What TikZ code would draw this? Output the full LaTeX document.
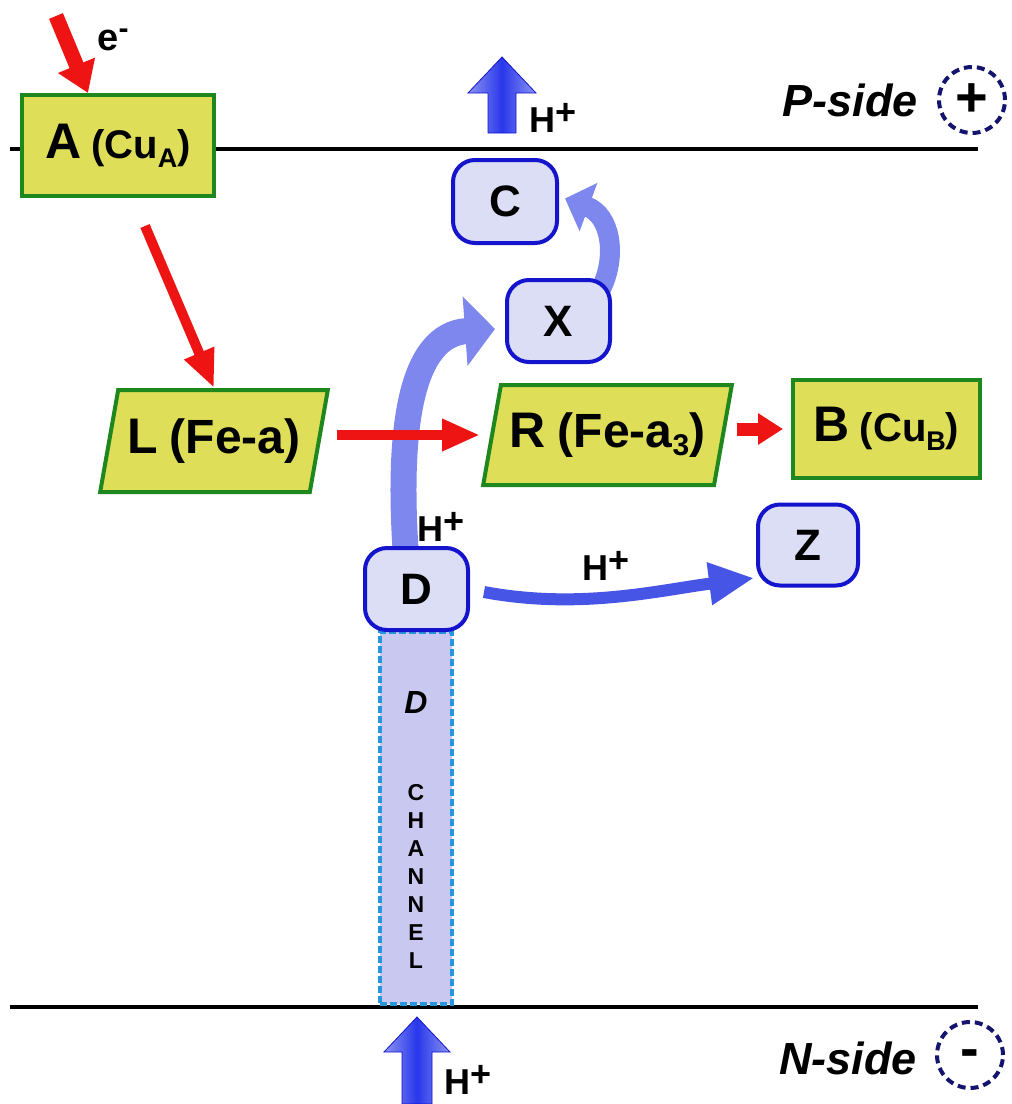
\documentclass[tikz,border=0pt]{standalone}
\usepackage{fontspec}
\setmainfont{Liberation Sans}
\usetikzlibrary{arrows.meta,shapes.geometric}
\definecolor{boxyellow}{RGB}{222,222,88}
\definecolor{boxgreen}{RGB}{30,135,30}
\definecolor{lav}{RGB}{220,222,246}
\definecolor{bborder}{RGB}{20,20,205}
\definecolor{redarr}{RGB}{238,20,20}
\definecolor{chfill}{RGB}{200,200,240}
\definecolor{chborder}{RGB}{40,150,220}
\definecolor{navyc}{RGB}{20,20,110}
\definecolor{arrblue}{RGB}{125,135,238}
\definecolor{deepblue}{RGB}{40,55,235}
\definecolor{paleblue}{RGB}{140,148,240}
\definecolor{zblue}{RGB}{70,85,230}
\pgfdeclarelayer{bg}
\pgfsetlayers{bg,main}
\newcommand{\fs}[1]{\fontsize{#1}{#1}\selectfont}
\tikzset{
  yrect/.style={draw=boxgreen, fill=boxyellow, line width=4pt, rectangle, inner sep=0pt, font=\bfseries},
  ypara/.style={draw=boxgreen, fill=boxyellow, line width=4pt, trapezium, trapezium left angle=70, trapezium right angle=110, trapezium stretches=true, inner sep=0pt, font=\bfseries},
  bbox/.style={draw=bborder, fill=lav, line width=4pt, rounded corners=22pt, inner sep=0pt, font=\fs{44}\bfseries},
  redarrow/.style={draw=redarr, line width=10pt, -{Triangle[width=30pt,length=38pt]}},
  hlabel/.style={font=\fs{36}\bfseries, inner sep=0pt},
  membrane/.style={draw=black, line width=3.5pt},
  sidelabel/.style={font=\fs{45}\bfseries\itshape, inner sep=0pt},
  chargecircle/.style={circle, draw=navyc, line width=4pt, dash pattern=on 8pt off 5pt, minimum size=66pt, inner sep=0pt, font=\fs{56}\bfseries},
  blockarrow/.style={left color=paleblue, right color=paleblue, middle color=deepblue, draw=bborder, line width=0.8pt},
  curvearrow/.style={draw=arrblue, line cap=butt}
}
\begin{document}
\begin{tikzpicture}[x=1pt,y=-1pt]
\useasboundingbox (0,0) rectangle (1012,1104);
% membranes
\coordinate (pl) at (10,149);
\coordinate (pr) at (978,149);
\coordinate (nl) at (10,1007);
\coordinate (nr) at (978,1007);
\begin{pgfonlayer}{bg}
\draw[membrane] (pl) -- (pr);
\draw[membrane] (nl) -- (nr);
\end{pgfonlayer}

% yellow nodes
\node[yrect, minimum width=192pt, minimum height=101pt] (A) at (118,145.5)
  {{\fs{50}A}\hspace{10pt}{\fs{40}(Cu\raisebox{-9pt}{\fs{27}A})}};
\node[ypara, minimum width=228pt, minimum height=102pt] (L) at (214,441)
  {{\fs{50}L}\hspace{12pt}{\fs{48}(Fe-a)}};
\node[ypara, minimum width=249pt, minimum height=100pt] (R) at (607.5,435)
  {{\fs{50}R}\hspace{12pt}{\fs{48}(Fe-a\raisebox{-8pt}{\fs{30}3})}};
\node[yrect, minimum width=187pt, minimum height=98pt] (B) at (886.5,429)
  {{\fs{50}B}\hspace{10pt}{\fs{40}(Cu\raisebox{-9pt}{\fs{27}B})}};

% channel
\node[draw=chborder, fill=chfill, line width=4.5pt, dash pattern=on 7pt off 3pt, minimum width=72pt, minimum height=372pt, inner sep=0pt] (ch) at (416,818) {};
\node[font=\fs{32}\bfseries\itshape, inner sep=0pt] (chD) at (416,702) {D};
\node[font=\fontsize{23}{28}\selectfont\bfseries, align=center, inner sep=0pt] (chtxt) at (416,876) {C\\H\\A\\N\\N\\E\\L};

% blue nodes
\node[bbox, minimum width=104pt, minimum height=83pt] (C) at (505,201.5) {C};
\node[bbox, minimum width=103pt, minimum height=82pt] (X) at (558.5,321) {X};
\node[bbox, minimum width=103pt, minimum height=82pt] (D) at (416.5,589) {D};
\node[bbox, minimum width=100pt, minimum height=81pt] (Z) at (808,545) {Z};

% side labels
\node[sidelabel] (P) at (850,100) {P-side};
\node[chargecircle] (Pc) at (972,100) {\raisebox{-2pt}{+}};
\node[sidelabel] (N) at (848,1058) {N-side};
\node[chargecircle] (Nc) at (970,1055) {\raisebox{-12pt}[0pt][0pt]{-}};

% H+ labels
\node[hlabel] (h1) at (553,118) {H\raisebox{8pt}{+}};
\node[hlabel] (h2) at (441,527) {H\raisebox{8pt}{+}};
\node[hlabel] (h3) at (606,566) {H\raisebox{8pt}{+}};
\node[hlabel] (h4) at (468,1080) {H\raisebox{8pt}{+}};
\node[font=\fs{38}\bfseries, inner sep=0pt] (em) at (113,40) {e\raisebox{12pt}{\fs{30}-}};

% block arrows
\shadedraw[blockarrow] (488,133) -- (488,93) -- (468,93) -- (502,57) -- (536,93) -- (516,93) -- (516,133) -- cycle;
\shadedraw[blockarrow] (402,1104) -- (402,1052) -- (384,1052) -- (417,1017) -- (450,1052) -- (432,1052) -- (432,1104) -- cycle;

% curved blue arrows
\begin{pgfonlayer}{bg}
\draw[curvearrow, line width=26pt, -{Triangle[width=68pt,length=30pt]}]
  ([xshift=-11pt,yshift=-3pt]D.north) .. controls (398,430) and (410,335) .. ([xshift=-10pt,yshift=-8pt]X.west);
\draw[curvearrow, line width=20pt, -{Triangle[width=50pt,length=25pt]}]
  ([xshift=42pt,yshift=-12pt]X.north) .. controls (618,255) and (610,215) .. ([xshift=6pt,yshift=3pt]C.east);
\draw[draw=zblue, line width=12pt, -{Triangle[width=40pt,length=45pt]}]
  ([xshift=14pt,yshift=-3pt]D.east) .. controls (580,610) and (660,590) .. ([xshift=-2pt,yshift=-33pt]Z.west);
\end{pgfonlayer}

% red arrows
\coordinate (e0) at (56,16);
\coordinate (a0) at (145,226);
\coordinate (r0) at (737,429);
\draw[draw=redarr, line width=15pt, -{Triangle[width=38pt,length=30pt]}] (e0) -- ([xshift=-30pt]A.north);
\draw[redarrow] (a0) -- (L.north);
\draw[redarrow, shorten <=16pt, shorten >=10pt] (L.east |- R.west) -- (R.west);
\draw[draw=redarr, line width=13pt, -{Triangle[width=30pt,length=25pt]}, shorten >=8pt] (r0) -- (B.west);
\end{tikzpicture}
\end{document}
